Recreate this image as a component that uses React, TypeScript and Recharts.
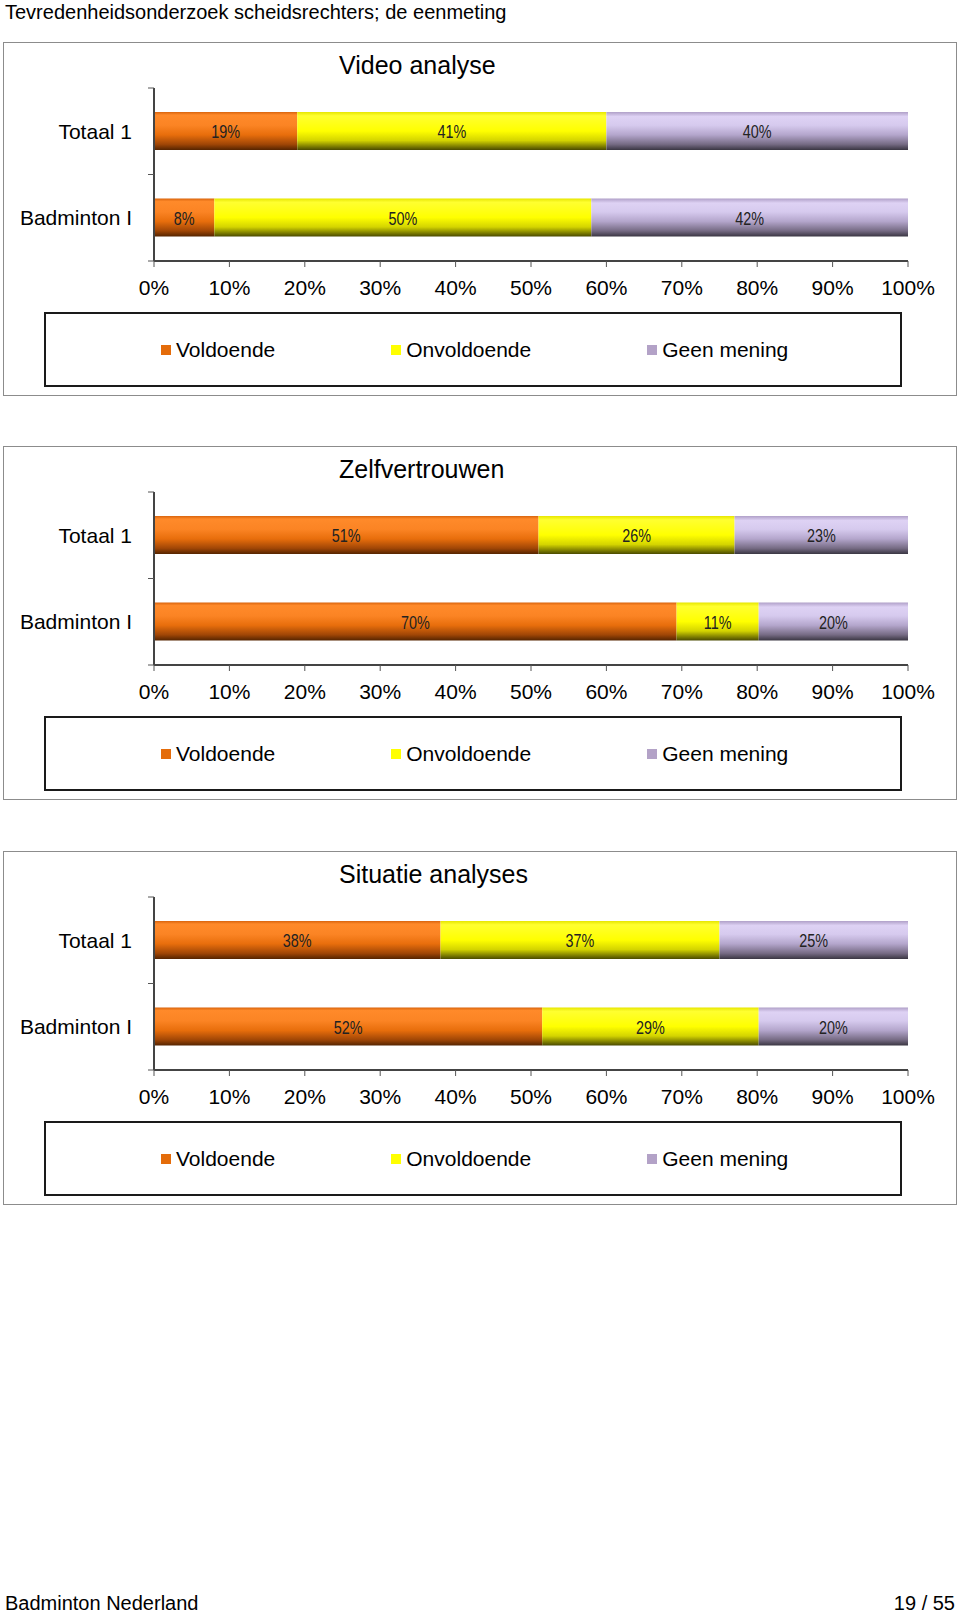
import { BarChart, Bar, XAxis, YAxis, Legend, LabelList } from 'recharts';

const FONT = "'Liberation Sans', Arial, Helvetica, sans-serif";

const pageTitle = 'Tevredenheidsonderzoek scheidsrechters; de eenmeting';
const footerLeft = 'Badminton Nederland';
const footerRight = '19 / 55';

const chartTitles = ['Video analyse', 'Zelfvertrouwen', 'Situatie analyses'];
const categories = ['Totaal 1', 'Badminton I'];
const seriesNames = ['Voldoende', 'Onvoldoende', 'Geen mening'];
const seriesKeys = ['voldoende', 'onvoldoende', 'geenMening'];

// one row per chart, one value per category
const voldoende = [[19, 8], [51, 70], [38, 52]];
const onvoldoende = [[41, 50], [26, 11], [37, 29]];
const geenMening = [[40, 42], [23, 20], [25, 20]];

const tickLabels = [0, 10, 20, 30, 40, 50, 60, 70, 80, 90, 100];

const legendColors = ['#e46c0a', '#ffff00', '#b3a2c7'];
const gradients = [
  [['0', '#d9640d'], ['0.08', '#ff8a2a'], ['0.35', '#fb8424'], ['0.6', '#e86e0c'], ['0.85', '#a04606'], ['1', '#552400']],
  [['0', '#e6e600'], ['0.1', '#ffff30'], ['0.5', '#ffff00'], ['0.75', '#d4d400'], ['1', '#4a4a00']],
  [['0', '#b0a0c8'], ['0.12', '#ded2f4'], ['0.35', '#d6caee'], ['0.6', '#b4a6cc'], ['0.85', '#766b84'], ['1', '#3a3642']],
];

const CHART_W = 954;
const CHART_H = 354;
const MARGIN = { top: 46, right: 49, bottom: 95, left: 21 };
const X_AXIS_H = 40;
const Y_AXIS_W = 130;
const PLOT_H = CHART_H - MARGIN.top - MARGIN.bottom - X_AXIS_H;
const panelTops = [42, 446, 851];

function CategoryTick(props: any) {
  const { x, y, payload } = props;
  const band = PLOT_H / categories.length;
  const axisX = x + 22;
  return (
    <g>
      <line x1={axisX - 6} x2={axisX} y1={y - band / 2} y2={y - band / 2} stroke="#555" />
      <line x1={axisX - 6} x2={axisX} y1={y + band / 2} y2={y + band / 2} stroke="#555" />
      <text x={x} y={y} dy="0.36em" textAnchor="end" fontSize={21} fontFamily={FONT} fill="#000">
        {payload.value}
      </text>
    </g>
  );
}

// condensed value label, like the narrow font of the original
function NarrowLabel(props: any) {
  const { x, y, width, height, value } = props;
  const cx = x + width / 2;
  const cy = y + height / 2 + 1;
  return (
    <text
      transform={`translate(${cx},${cy}) scale(0.8,1)`}
      textAnchor="middle"
      dy="0.36em"
      fontSize={18}
      fontFamily={FONT}
      fill="#222"
    >
      {`${value}%`}
    </text>
  );
}

function LegendBox() {
  return (
    <div style={{ display: 'flex', alignItems: 'center', height: '100%', paddingLeft: 115, gap: 116, boxSizing: 'border-box' }}>
      {seriesNames.map((n, i) => (
        <div key={n} style={{ display: 'flex', alignItems: 'center' }}>
          <span style={{ display: 'inline-block', width: 10, height: 10, background: legendColors[i], marginRight: 5 }} />
          <span style={{ fontSize: 21, fontFamily: FONT, color: '#000', lineHeight: '24px' }}>{n}</span>
        </div>
      ))}
    </div>
  );
}

function Panel({ index, top }: { index: number; top: number }) {
  const data = categories.map((name, i) => ({
    name,
    voldoende: voldoende[index][i],
    onvoldoende: onvoldoende[index][i],
    geenMening: geenMening[index][i],
  }));

  return (
    <div
      style={{
        position: 'absolute',
        left: 3,
        top,
        width: CHART_W,
        height: CHART_H,
        boxShadow: 'inset 0 0 0 1px #8c8c8c',
      }}
    >
      <div style={{ position: 'absolute', left: 336, top: 11, fontSize: 25, lineHeight: '25px', fontFamily: FONT, color: '#000', whiteSpace: 'nowrap' }}>
        {chartTitles[index]}
      </div>
      <BarChart
        width={CHART_W}
        height={CHART_H}
        data={data}
        layout="vertical"
        stackOffset="expand"
        margin={MARGIN}
      >
        <defs>
          {gradients.map((stops, k) => (
            <linearGradient key={k} id={`grad-${index}-${k}`} x1="0" y1="0" x2="0" y2="1">
              {stops.map(([o, c]) => (
                <stop key={o} offset={o} stopColor={c} />
              ))}
            </linearGradient>
          ))}
        </defs>
        <XAxis
          type="number"
          domain={[0, 1]}
          ticks={tickLabels.map((t) => t / 100)}
          tickFormatter={(v: number) => `${Math.round(v * 100)}%`}
          interval={0}
          height={X_AXIS_H}
          tickSize={6}
          tickMargin={13}
          tick={{ fill: '#000', fontSize: 21, fontFamily: FONT }}
          tickLine={{ stroke: '#555' }}
          axisLine={{ stroke: '#444', strokeWidth: 2 }}
        />
        <XAxis
          xAxisId="top"
          orientation="top"
          type="number"
          domain={[0, 1]}
          height={0}
          tick={false}
          tickLine={false}
          axisLine={{ stroke: '#777', strokeWidth: 1.5 }}
        />
        <YAxis
          type="category"
          dataKey="name"
          width={Y_AXIS_W}
          tickSize={0}
          tickMargin={22}
          tick={<CategoryTick />}
          tickLine={false}
          axisLine={{ stroke: '#444', strokeWidth: 2 }}
        />
        <YAxis
          yAxisId="right"
          orientation="right"
          type="number"
          domain={[0, 1]}
          width={0}
          tick={false}
          tickLine={false}
          axisLine={{ stroke: '#888', strokeWidth: 1.5 }}
        />
        {seriesKeys.map((key, k) => (
          <Bar
            key={key}
            dataKey={key}
            name={seriesNames[k]}
            stackId="a"
            barSize={38}
            fill={`url(#grad-${index}-${k})`}
            isAnimationActive={false}
          >
            <LabelList dataKey={key} position="center" content={<NarrowLabel />} />
          </Bar>
        ))}
        <Legend
          layout="horizontal"
          verticalAlign="middle"
          align="center"
          content={() => <LegendBox />}
          wrapperStyle={{
            left: 41,
            top: 270,
            width: 858,
            height: 75,
            border: '2px solid #1a1a1a',
            boxSizing: 'border-box',
            background: '#fff',
          }}
        />
      </BarChart>
    </div>
  );
}

export default function App() {
  return (
    <div style={{ position: 'absolute', left: 0, top: 0, width: 960, height: 1613, overflow: 'hidden', background: '#fff', fontFamily: FONT }}>
      <div style={{ position: 'absolute', left: 5, top: 2, fontSize: 20, lineHeight: '20px', color: '#000', whiteSpace: 'nowrap' }}>{pageTitle}</div>
      {chartTitles.map((t, i) => (
        <Panel key={t} index={i} top={panelTops[i]} />
      ))}
      <div style={{ position: 'absolute', left: 5, top: 1595, fontSize: 20, lineHeight: '16px', color: '#000', whiteSpace: 'nowrap' }}>{footerLeft}</div>
      <div style={{ position: 'absolute', right: 5, top: 1595, fontSize: 20, lineHeight: '16px', color: '#000', whiteSpace: 'nowrap' }}>{footerRight}</div>
    </div>
  );
}
